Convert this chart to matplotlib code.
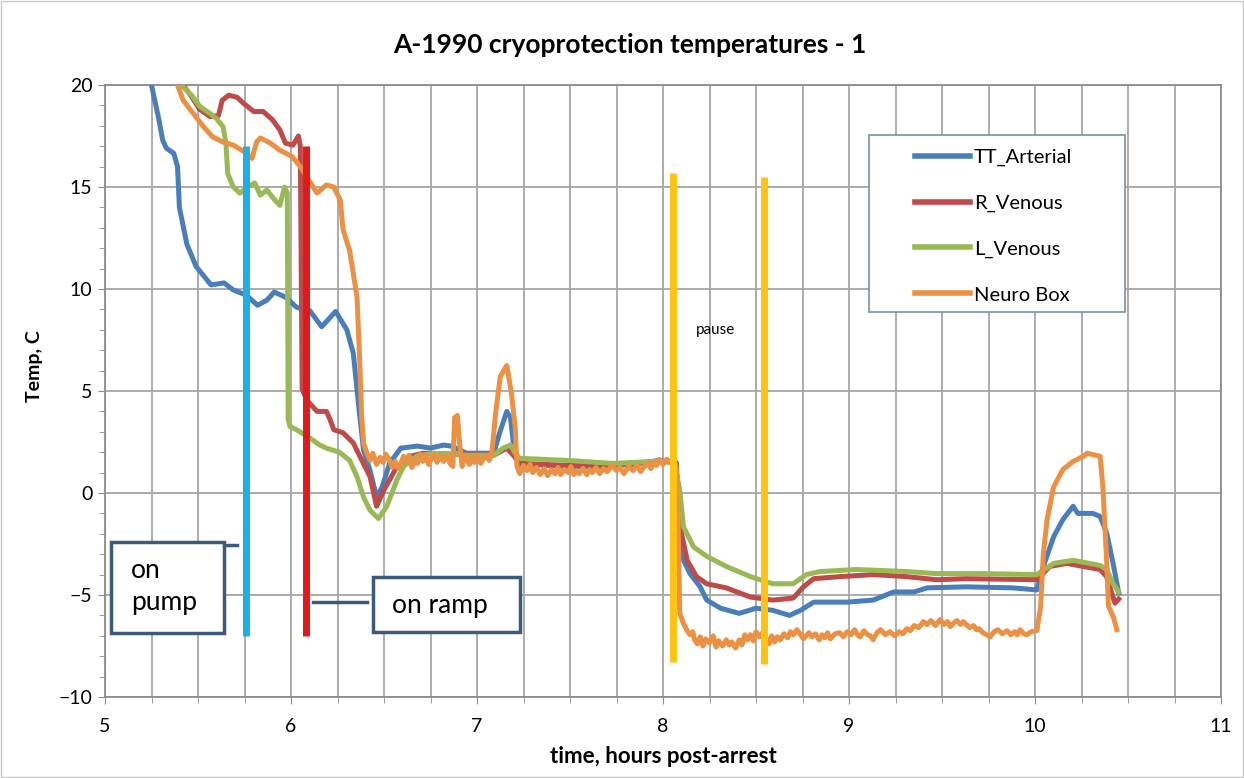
import matplotlib
matplotlib.use("Agg")
import matplotlib.pyplot as plt
from matplotlib.patches import Rectangle
from matplotlib.ticker import MultipleLocator

plt.rcParams['font.family'] = ['Lato', 'DejaVu Sans']

# hours post-arrest / temperature C
arterial_t = [5.25, 5.29, 5.31, 5.33, 5.37, 5.39, 5.40, 5.44, 5.49, 5.57, 5.64, 5.69, 5.76, 5.82,
              5.87, 5.91, 5.97, 6.03, 6.10, 6.165, 6.24, 6.30, 6.335, 6.35, 6.37, 6.39, 6.425,
              6.46, 6.49, 6.53, 6.59, 6.68, 6.75, 6.82, 6.86, 6.91, 6.945, 7.09, 7.12, 7.16,
              7.18, 7.20, 7.22, 7.30, 7.48, 7.66, 7.84, 7.98, 8.07, 8.09, 8.10, 8.145, 8.20,
              8.235, 8.31, 8.41, 8.50, 8.59, 8.68, 8.74, 8.81, 8.99, 9.13, 9.24, 9.35, 9.42,
              9.63, 9.88, 10.01, 10.045, 10.10, 10.15, 10.205, 10.23, 10.31, 10.35, 10.385,
              10.42, 10.45]
arterial = [20.0, 18.3, 17.3, 16.9, 16.65, 16.0, 14.0, 12.2, 11.1, 10.2, 10.3, 9.95, 9.7, 9.2,
            9.45, 9.85, 9.6, 9.1, 8.95, 8.15, 8.9, 8.0, 6.85, 5.5, 3.75, 2.1, 1.1,
            -0.2, 0.3, 1.45, 2.2, 2.3, 2.2, 2.35, 2.3, 2.1, 1.95, 1.95, 2.9, 4.0,
            3.7, 2.1, 1.4, 1.4, 1.3, 1.3, 1.4, 1.6, 1.5, -2.6, -3.1, -3.95, -4.6,
            -5.25, -5.65, -5.9, -5.65, -5.75, -6.0, -5.75, -5.35, -5.35, -5.25, -4.85, -4.85, -4.65,
            -4.6, -4.65, -4.75, -3.6, -2.15, -1.3, -0.65, -1.0, -1.0, -1.15, -1.95,
            -3.45, -4.9]

rven_t = [5.42, 5.46, 5.51, 5.565, 5.61, 5.63, 5.665, 5.71, 5.745, 5.80, 5.85, 5.90, 5.94,
          5.97, 6.01, 6.04, 6.05, 6.06, 6.085, 6.14, 6.19, 6.21, 6.23, 6.28, 6.335, 6.37,
          6.425, 6.46, 6.50, 6.57, 6.64, 6.71, 6.90, 7.09, 7.16, 7.20, 7.23, 7.50, 7.75,
          7.98, 8.07, 8.10, 8.13, 8.18, 8.235, 8.34, 8.47, 8.59, 8.70, 8.755, 8.81, 8.95,
          9.13, 9.31, 9.47, 9.63, 10.01, 10.08, 10.17, 10.35, 10.385, 10.43, 10.45]
rven = [20.0, 19.5, 18.8, 18.45, 18.5, 19.25, 19.5, 19.4, 19.1, 18.7, 18.7, 18.3, 17.8,
        17.15, 17.05, 17.5, 17.0, 5.1, 4.55, 4.0, 4.0, 3.6, 3.1, 2.95, 2.45, 1.8,
        0.8, -0.65, 0.15, 1.3, 1.8, 1.95, 1.9, 1.85, 2.2, 1.8, 1.45, 1.35, 1.4,
        1.55, 1.5, -2.0, -3.3, -4.1, -4.45, -4.65, -5.1, -5.25, -5.15, -4.6, -4.2, -4.1,
        -4.0, -4.1, -4.25, -4.2, -4.25, -3.6, -3.45, -3.75, -4.1, -5.4, -5.2]

lven_t = [5.41, 5.465, 5.51, 5.565, 5.60, 5.635, 5.65, 5.66, 5.69, 5.725, 5.76, 5.805, 5.835,
          5.87, 5.905, 5.94, 5.965, 5.98, 5.985, 5.995, 6.03, 6.10, 6.155, 6.19, 6.26, 6.315,
          6.355, 6.39, 6.425, 6.47, 6.515, 6.57, 6.605, 6.675, 6.765, 6.945, 7.09, 7.14,
          7.18, 7.205, 7.23, 7.48, 7.73, 7.95, 8.06, 8.09, 8.11, 8.165, 8.235, 8.34, 8.47,
          8.59, 8.70, 8.77, 8.845, 9.04, 9.31, 9.47, 9.70, 10.01, 10.10, 10.205, 10.35,
          10.385, 10.42, 10.45]
lven = [20.0, 19.5, 18.95, 18.6, 18.35, 17.95, 17.15, 15.65, 15.0, 14.7, 14.95, 15.2, 14.6,
        14.85, 14.45, 14.1, 15.0, 14.7, 3.6, 3.25, 3.1, 2.7, 2.35, 2.2, 2.0, 1.6,
        0.8, -0.2, -0.85, -1.25, -0.65, 0.65, 1.3, 1.8, 1.95, 1.85, 1.85, 2.2,
        2.35, 1.95, 1.7, 1.6, 1.45, 1.55, 1.55, 0.15, -1.65, -2.65, -3.1, -3.6, -4.1,
        -4.45, -4.45, -4.0, -3.85, -3.75, -3.85, -3.95, -3.95, -4.0, -3.45, -3.3, -3.55,
        -3.75, -4.45, -4.85]

neuro_t = [5.39, 5.42, 5.475, 5.53, 5.58, 5.635, 5.69, 5.745, 5.79, 5.815, 5.835, 5.89, 5.94,
           6.005, 6.05, 6.085, 6.14, 6.19, 6.23, 6.265, 6.28, 6.315, 6.355, 6.37, 6.38, 6.39,
           6.41, 6.425, 6.44, 6.46, 6.48, 6.495, 6.51, 6.53, 6.545, 6.56, 6.575, 6.59, 6.605,
           6.62, 6.635, 6.65, 6.665, 6.68, 6.695, 6.71, 6.725, 6.74, 6.755, 6.77, 6.785, 6.80,
           6.82, 6.84, 6.855, 6.87, 6.88, 6.895, 6.905, 6.92, 6.935, 6.945, 6.96, 6.97, 6.985,
           7.00, 7.02, 7.035, 7.05, 7.065, 7.08, 7.10,
           7.125, 7.16, 7.185, 7.205, 7.215, 7.23, 7.25, 7.27, 7.285, 7.30, 7.32, 7.34, 7.36,
           7.38, 7.40, 7.42, 7.435, 7.45, 7.47, 7.49, 7.505, 7.52, 7.535, 7.55, 7.57, 7.59,
           7.605, 7.62, 7.64, 7.66, 7.68, 7.70, 7.725, 7.75, 7.77, 7.79, 7.815, 7.84, 7.86,
           7.88, 7.90, 7.92, 7.935, 7.95, 7.965, 7.98,
           8.00, 8.02, 8.04, 8.07, 8.08, 8.09, 8.11, 8.13, 8.145, 8.16, 8.17, 8.185, 8.20, 8.215,
           8.23, 8.25, 8.27, 8.285, 8.30, 8.32, 8.34, 8.355, 8.37, 8.39, 8.41, 8.425, 8.44,
           8.455, 8.47, 8.485, 8.50, 8.52, 8.54, 8.555, 8.57, 8.585, 8.60, 8.615, 8.63, 8.65,
           8.67, 8.685, 8.70, 8.72, 8.74, 8.755, 8.77, 8.785, 8.80, 8.82, 8.84, 8.855, 8.87,
           8.885, 8.90, 8.925, 8.95, 8.97, 8.99, 9.01, 9.03, 9.045, 9.06, 9.08, 9.10, 9.115,
           9.13, 9.15, 9.17, 9.195, 9.22, 9.245, 9.27, 9.29, 9.31, 9.33, 9.35, 9.375, 9.40,
           9.42, 9.44, 9.465, 9.49, 9.51, 9.53, 9.545, 9.56, 9.58, 9.60, 9.615, 9.63, 9.65,
           9.67, 9.685, 9.70, 9.72, 9.74, 9.76, 9.78, 9.80, 9.825, 9.85, 9.87, 9.89, 9.905,
           9.92, 9.94, 9.955, 9.98, 10.01,
           10.03, 10.045, 10.065, 10.10, 10.15, 10.205, 10.26, 10.28, 10.35, 10.365, 10.385,
           10.395, 10.42, 10.44]
neuro = [20.0, 19.25, 18.6, 17.95, 17.45, 17.2, 17.05, 16.75, 16.4, 17.2, 17.4, 17.15, 16.8,
         16.5, 16.0, 15.5, 14.7, 15.1, 15.0, 14.35, 12.9, 11.9, 9.6, 6.35, 3.75, 2.45,
         1.9, 1.6, 1.95, 1.4, 1.75, 1.5, 1.9, 1.6, 1.25, 1.55, 1.2, 1.45, 1.8,
         1.5, 1.85, 1.25, 1.6, 1.45, 1.9, 1.55, 1.85, 1.4, 1.7, 1.9, 1.5, 1.8,
         1.55, 1.85, 1.45, 1.3, 3.7, 3.8, 2.6, 1.3, 1.85, 1.6, 1.4, 1.75, 1.5,
         1.8, 1.45, 1.7, 1.85, 1.6, 1.95, 3.9,
         5.7, 6.25, 4.9, 3.25, 1.3, 0.95, 1.35, 1.1, 1.4, 1.0, 1.25, 0.9, 1.2,
         0.85, 1.15, 0.95, 1.25, 0.9, 1.15, 1.0, 1.3, 0.9, 1.1, 0.95, 1.2, 0.9,
         1.15, 1.0, 1.25, 0.95, 1.2, 1.05, 1.35, 1.1, 1.25, 0.95, 1.3, 1.1, 1.35,
         1.05, 1.3, 1.45, 1.2, 1.5, 1.35, 1.65,
         1.4, 1.65, 1.5, 1.3, -1.0, -5.9, -6.4, -6.75, -6.95, -6.8, -7.2, -7.4, -7.05, -7.5,
         -7.15, -7.35, -7.0, -7.55, -7.25, -7.5, -7.2, -7.45, -7.3, -7.6, -7.2, -7.45, -6.95,
         -7.2, -6.95, -7.25, -6.8, -7.05, -6.8, -7.1, -7.4, -7.0, -7.3, -7.05, -7.2, -6.9,
         -7.1, -6.8, -6.95, -6.7, -6.95, -7.15, -7.0, -6.85, -7.05, -6.9, -7.2, -6.95, -7.1,
         -6.85, -7.15, -6.9, -6.85, -7.05, -6.8, -6.95, -6.7, -6.95, -7.05, -6.75, -6.95, -7.0,
         -7.2, -6.85, -6.7, -6.95, -6.8, -7.0, -6.8, -6.9, -6.65, -6.75, -6.5, -6.6, -6.3,
         -6.45, -6.25, -6.5, -6.2, -6.45, -6.3, -6.55, -6.4, -6.25, -6.45, -6.3, -6.45, -6.6,
         -6.5, -6.7, -6.65, -6.85, -6.95, -7.05, -6.8, -6.7, -6.9, -6.75, -6.95, -6.8, -6.95,
         -6.7, -6.9, -6.95, -6.8, -6.75,
         -5.6, -2.95, -1.3, 0.3, 1.15, 1.55, 1.8, 1.95, 1.8, 0.3, -3.3,
         -5.55, -6.05, -6.7]

series_names = ['TT_Arterial', 'R_Venous', 'L_Venous', 'Neuro Box']
series_colors = ['#4a7ebb', '#be4b48', '#98b954', '#ec9144']

# event markers drawn over the chart
event_x = [5.76, 6.08, 8.055, 8.543]
event_top = [17.0, 17.0, 15.7, 15.5]
event_bottom = [-7.0, -7.0, -8.3, -8.4]
event_colors = ['#1eb0e4', '#e01a1a', '#ffc311', '#ffc311']

fig = plt.figure(figsize=(12.44, 7.78), dpi=100)
ax = fig.add_axes([105 / 1244, 81 / 778, 1116 / 1244, 612 / 778])

xs = [arterial_t, rven_t, lven_t, neuro_t]
ys = [arterial, rven, lven, neuro]
for t, v, name, c in zip(xs, ys, series_names, series_colors):
    ax.plot(t, v, color=c, lw=3.6, label=name, solid_joinstyle='round', zorder=3)

for x, lo, hi, c in zip(event_x, event_bottom, event_top, event_colors):
    ax.plot([x, x], [lo, hi], color=c, lw=5, solid_capstyle='butt', zorder=5)

ax.set_xlim(5, 11)
ax.set_ylim(-10, 20)
ax.xaxis.set_major_locator(MultipleLocator(1))
ax.xaxis.set_minor_locator(MultipleLocator(0.25))
ax.yaxis.set_major_locator(MultipleLocator(5))
ax.yaxis.set_minor_locator(MultipleLocator(1))
ax.grid(True, which='major', color='#a6a6a6', lw=1.3)
ax.grid(True, which='minor', axis='x', color='#a6a6a6', lw=1.3)
ax.tick_params(which='both', direction='out', color='#8c8c8c', labelsize=14)
ax.tick_params(which='major', length=5)
ax.tick_params(which='minor', length=4)
ax.tick_params(axis='x', pad=10)
ax.tick_params(axis='y', pad=4)
for s in ax.spines.values():
    s.set_color('#8c8c8c')
    s.set_linewidth(1.3)
ax.set_axisbelow(True)

ax.set_xlabel('time, hours post-arrest', fontsize=16, fontweight='bold', labelpad=8)
ax.set_ylabel('Temp, C', fontsize=14, fontweight='bold')
ax.yaxis.set_label_coords(-0.056, 0.541)
fig.text(0.506, 0.942, 'A-1990 cryoprotection temperatures - 1', ha='center', va='center',
         fontsize=19, fontweight='bold')

# legend frame drawn separately so the padding can differ per side
ax.add_patch(Rectangle((0.685, 0.629), 0.229, 0.289, transform=ax.transAxes, fc='white',
                       ec='#7d8ea3', lw=1.2, zorder=6))
leg = ax.legend(loc='upper left', bbox_to_anchor=(0.718, 0.911), fontsize=14.5,
                frameon=False, labelspacing=1.42, handlelength=2.7, handletextpad=0.2,
                borderpad=0.45, borderaxespad=0)
for h in leg.get_lines():
    h.set_linewidth(4)
leg.set_zorder(7)

ax.text(8.28, 8.0, 'pause', fontsize=11, ha='center', va='center', zorder=6)

box_ec = '#3d5a7a'
ax.add_patch(Rectangle((5.03, -6.85), 0.61, 4.45, fc='white', ec=box_ec, lw=2.5, zorder=6))
ax.plot([5.64, 5.71], [-2.55, -2.55], color=box_ec, lw=2.5, zorder=6)
ax.text(5.14, -4.6, 'on\npump', fontsize=19, ha='left', va='center', linespacing=1.35, zorder=7)
ax.add_patch(Rectangle((6.44, -6.8), 0.79, 2.7, fc='white', ec=box_ec, lw=2.5, zorder=6))
ax.plot([6.12, 6.41], [-5.35, -5.35], color=box_ec, lw=2.5, zorder=6)
ax.text(6.545, -5.5, 'on ramp', fontsize=19, ha='left', va='center', zorder=7)

fig.patches.append(Rectangle((0.001, 0.001), 0.998, 0.998, transform=fig.transFigure,
                             fill=False, ec='#c8c8c8', lw=1))

fig.savefig('out.png', dpi=100)
